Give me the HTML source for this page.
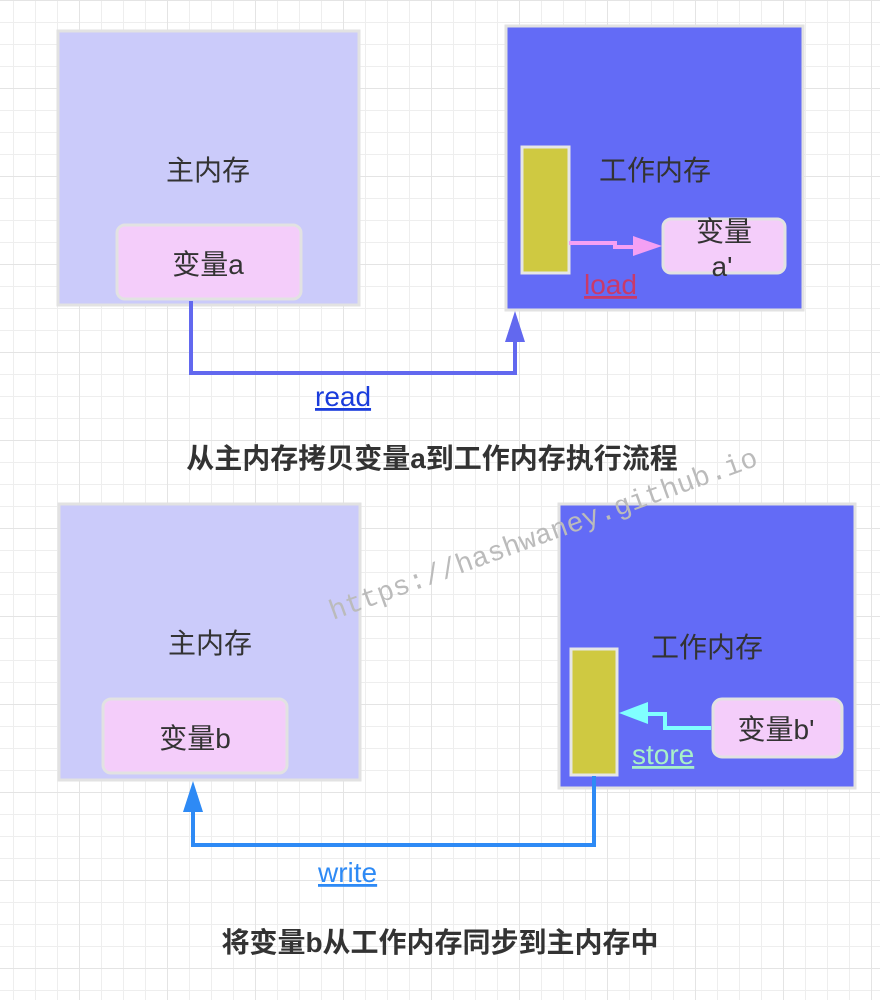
<!DOCTYPE html>
<html><head><meta charset="utf-8"><style>
html,body{margin:0;padding:0;background:#fff}
svg{display:block}
text{font-family:"Liberation Sans","Noto Sans CJK SC",sans-serif}
</style></head><body>
<svg width="880" height="1000" xmlns="http://www.w3.org/2000/svg">
<defs>
<pattern id="g" x="13" y="0" width="22" height="22" patternUnits="userSpaceOnUse">
<path d="M0 0V22M0 0H22" stroke="#eeeeee" stroke-width="2" fill="none"/>
</pattern>
<pattern id="G" x="79" y="0" width="88" height="88" patternUnits="userSpaceOnUse">
<path d="M0 0V88M0 0H88" stroke="#e4e4e4" stroke-width="2" fill="none"/>
</pattern>
</defs>
<rect width="880" height="1000" fill="url(#g)"/>
<rect width="880" height="1000" fill="url(#G)"/>

<rect x="58" y="31" width="301" height="274" fill="#cbcbfa" stroke="#e2e2e2" stroke-width="3"/>
<text x="208" y="180" font-size="28" fill="#333" text-anchor="middle">主内存</text>
<rect x="117" y="225" width="184" height="74" rx="8" fill="#f4cdfa" stroke="#e2e2e2" stroke-width="3"/>
<text x="208" y="274" font-size="28" fill="#333" text-anchor="middle">变量a</text>

<rect x="506" y="26" width="297" height="284" fill="#636bf6" stroke="#e2e2e2" stroke-width="3"/>
<text x="655" y="180" font-size="28" fill="#333" text-anchor="middle">工作内存</text>
<rect x="522" y="147" width="47" height="126" fill="#cfc941" stroke="#e6e6e6" stroke-width="3"/>
<rect x="663" y="219" width="122" height="54" rx="8" fill="#f4cdfa" stroke="#e2e2e2" stroke-width="3"/>
<text x="724" y="241" font-size="28" fill="#333" text-anchor="middle">变量</text>
<text x="722" y="276" font-size="28" fill="#333" text-anchor="middle">a'</text>
<path d="M569 243H615V247H635" stroke="#f4a0f4" stroke-width="4" fill="none"/>
<polygon points="633,236 662,246 633,256" fill="#f4a0f4"/>
<text x="584" y="294" font-size="28" fill="#c83a6a" text-decoration="underline">load</text>

<path d="M191 301V373H515V335" stroke="#6268ef" stroke-width="4" fill="none"/>
<polygon points="505,342 515,311 525,342" fill="#6268ef"/>
<text x="315" y="406" font-size="28" fill="#1a3cdc" text-decoration="underline">read</text>

<text x="432" y="468" font-size="28" font-weight="bold" fill="#333" text-anchor="middle">从主内存拷贝变量a到工作内存执行流程</text>

<rect x="59" y="504" width="301" height="276" fill="#cbcbfa" stroke="#e2e2e2" stroke-width="3"/>
<text x="210" y="653" font-size="28" fill="#333" text-anchor="middle">主内存</text>
<rect x="103" y="699" width="184" height="74" rx="8" fill="#f4cdfa" stroke="#e2e2e2" stroke-width="3"/>
<text x="195" y="748" font-size="28" fill="#333" text-anchor="middle">变量b</text>

<rect x="559" y="504" width="296" height="284" fill="#636bf6" stroke="#e2e2e2" stroke-width="3"/>
<text x="707" y="657" font-size="28" fill="#333" text-anchor="middle">工作内存</text>
<rect x="571" y="649" width="46" height="126" fill="#cfc941" stroke="#e6e6e6" stroke-width="3"/>
<rect x="713" y="699" width="129" height="58" rx="9" fill="#f4cdfa" stroke="#e2e2e2" stroke-width="3"/>
<text x="776" y="739" font-size="28" fill="#333" text-anchor="middle">变量b'</text>
<path d="M711 728H665V714H645" stroke="#80ffff" stroke-width="4" fill="none"/>
<polygon points="648,702 619,713 648,724" fill="#80ffff"/>
<text x="632" y="764" font-size="28" fill="#a8f0c8" text-decoration="underline">store</text>

<path d="M594 776V845H193V808" stroke="#2e8af5" stroke-width="4" fill="none"/>
<polygon points="183,812 193,781 203,812" fill="#2e8af5"/>
<text x="318" y="882" font-size="28" fill="#2e8af5" text-decoration="underline">write</text>

<text x="440" y="952" font-size="28" font-weight="bold" fill="#333" text-anchor="middle">将变量b从工作内存同步到主内存中</text>

<text x="0" y="0" font-size="28" fill="#bbb" style="font-family:'Liberation Mono',monospace" transform="translate(333,620) rotate(-20)">https://hashwaney.github.io</text>
</svg>
</body></html>
